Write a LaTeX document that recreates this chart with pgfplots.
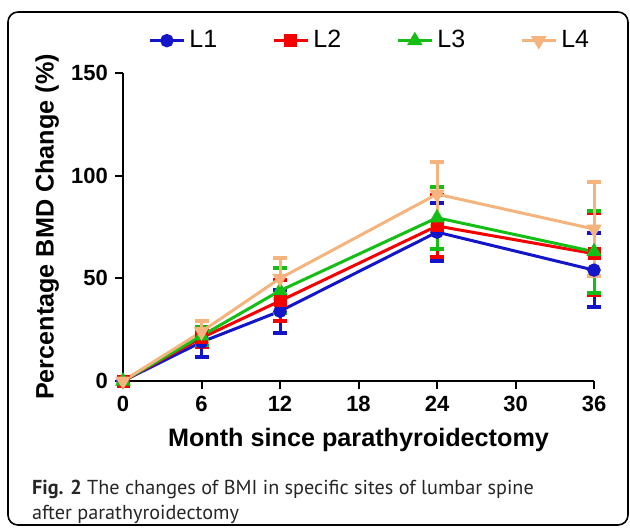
\documentclass[border=0pt]{standalone}
\usepackage{fontspec}
\setmainfont{Liberation Sans}
\newfontfamily\capfont{PT Sans}
\usepackage{pgfplots}
\pgfplotsset{compat=1.18}

\definecolor{Lone}{RGB}{20,20,200}
\definecolor{Ltwo}{RGB}{245,0,0}
\definecolor{Lthree}{RGB}{20,190,20}
\definecolor{Lfour}{RGB}{245,180,125}

% month, mean change, error
\pgfplotstableread{
x y e
0 0 0
6 19 7.5
12 34 10.5
24 72.5 14
36 54 18
}\Lonedata
\pgfplotstableread{
x y e
0 0 0
6 21 4.5
12 39 10
24 75.5 15
36 62 20
}\Ltwodata
\pgfplotstableread{
x y e
0 0 0
6 22 4.5
12 44 11
24 79.5 15
36 63 20
}\Lthreedata
\pgfplotstableread{
x y e
0 0 0
6 24 5
12 50 10
24 91 15.5
36 74 23
}\Lfourdata

\pgfplotsset{
  ser/.style={#1, line width=1.5pt, mark options={solid, fill=#1},
    error bars/y dir=both, error bars/y explicit,
    error bars/error bar style={line width=1.5pt, #1},
    error bars/error mark options={rotate=90, line width=2pt, mark size=3.5pt, #1}},
}

\begin{document}
\begin{tikzpicture}
\useasboundingbox (0,0) rectangle (315pt,263.5pt);
\draw[line width=0.8pt, rounded corners=5pt] (4pt,257.5pt) rectangle (314pt,1pt);
\begin{axis}[
  at={(61.5pt,73pt)}, anchor=south west,
  scale only axis, width=235.5pt, height=154pt,
  xmin=0, xmax=36, ymin=0, ymax=150,
  clip=false,
  axis x line=bottom, axis y line=left,
  axis line style={-, line width=1pt},
  xtick={0,6,...,36}, ytick={0,50,100,150},
  tick align=outside, major tick length=4pt,
  tick style={line width=1pt, black},
  /pgf/number format/assume math mode=true,
  ticklabel style={font=\bfseries\fontsize{11}{12}\selectfont},
  label style={font=\bfseries\fontsize{12.6}{14}\selectfont},
  xlabel={Month since parathyroidectomy},
  ylabel={Percentage BMD Change (\%)},
  xlabel style={at={(axis description cs:0.5,-0.192)}, anchor=center},
  ylabel style={at={(axis description cs:-0.161,0.5)}, anchor=center},
  legend style={at={(0.526,1.105)}, anchor=center, draw=none, fill=none,
    font=\fontsize{12.5}{14}\selectfont, legend columns=4,
    /tikz/every even column/.append style={column sep=25.5pt}},
]
\addplot[mark=*, mark size=2.6pt, ser=Lone] table[x=x, y=y, y error=e] {\Lonedata};
\addlegendentry{L1}
\addplot[mark=square*, mark size=2.5pt, ser=Ltwo] table[x=x, y=y, y error=e] {\Ltwodata};
\addlegendentry{L2}
\addplot[mark=triangle*, mark size=3pt, ser=Lthree] table[x=x, y=y, y error=e] {\Lthreedata};
\addlegendentry{L3}
\addplot[mark=triangle*, mark size=3pt, ser=Lfour, mark options={rotate=180}] table[x=x, y=y, y error=e] {\Lfourdata};
\addlegendentry{L4}
\end{axis}
\node[anchor=base west, text=black!85, font=\capfont\fontsize{10.1}{12}\selectfont] at (12.5pt,16.5pt)
  {\textbf{Fig. 2} The changes of BMI in specific sites of lumbar spine};
\node[anchor=base west, text=black!85, font=\capfont\fontsize{10.1}{12}\selectfont] at (12.5pt,4pt)
  {after parathyroidectomy};
\end{tikzpicture}
\end{document}
